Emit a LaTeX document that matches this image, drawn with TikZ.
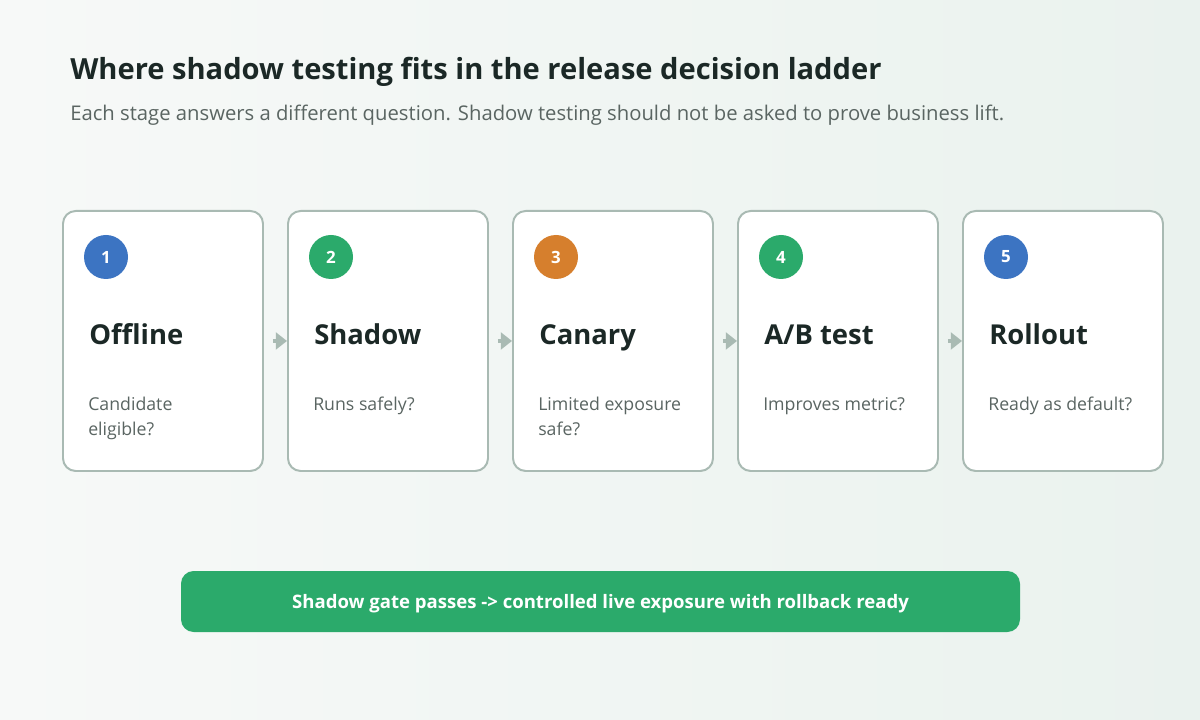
\documentclass[tikz,border=0pt]{standalone}
\usepackage{fontspec}
\setmainfont{Open Sans}
\usetikzlibrary{arrows.meta}
\definecolor{inkdark}{HTML}{1B2826}
\definecolor{inkgrey}{HTML}{5A6562}
\definecolor{edgegrey}{HTML}{A9BAB3}
\definecolor{stepblue}{HTML}{3C74C2}
\definecolor{stepgreen}{HTML}{2BAA6B}
\definecolor{steporange}{HTML}{D67F2D}
\definecolor{bgleft}{HTML}{F7F9F8}
\definecolor{bgright}{HTML}{EAF2EE}
\begin{document}
\begin{tikzpicture}[x=0.025cm, y=-0.025cm,%
% common options for the stage cards:
card/.style = {draw=edgegrey, line width=1.4pt, fill=white, rounded corners=9pt,
            minimum width=200*0.025cm, minimum height=260*0.025cm, anchor=north west, inner sep=0},
% common options for the numbered circles:
badge/.style = {circle, minimum size=44*0.025cm, inner sep=0, text=white, font=\fontsize{12}{14}\selectfont\bfseries},
stagename/.style = {anchor=base west, inner sep=0, text=inkdark, font=\fontsize{19.5}{24}\selectfont\bfseries},
question/.style = {anchor=north west, inner sep=0, text=inkgrey, align=left, font=\fontsize{12.6}{17.5}\selectfont},
arr/.style = {draw=edgegrey, line width=2.6pt, -{Triangle[length=8pt,width=12pt]}}]
\shade[left color=bgleft, right color=bgright] (0,0) rectangle (1200,720);
\useasboundingbox (0,0) rectangle (1200,720);
\node[anchor=base west, inner sep=0, text=inkdark, font=\fontsize{20.7}{24}\selectfont\bfseries] (title) at (70,80) {Where shadow testing fits in the release decision ladder};
\node[anchor=base west, inner sep=0, text=inkgrey, font=\fontsize{14.4}{17}\selectfont] (sub) at (70,121) {Each stage answers a different question. Shadow testing should not be asked to prove business lift.};
\node[card] (S1) at (62,210) {};
\node[card] (S2) at (287,210) {};
\node[card] (S3) at (512,210) {};
\node[card] (S4) at (737,210) {};
\node[card] (S5) at (962,210) {};
\node[badge, fill=stepblue] (N1) at (106,257) {1};
\node[badge, fill=stepgreen] (N2) at (331,257) {2};
\node[badge, fill=steporange] (N3) at (556,257) {3};
\node[badge, fill=stepgreen] (N4) at (781,257) {4};
\node[badge, fill=stepblue] (N5) at (1006,257) {5};
\node[stagename] (T1) at (89,345) {Offline};
\node[stagename] (T2) at (314,345) {Shadow};
\node[stagename] (T3) at (539,345) {Canary};
\node[stagename] (T4) at (764,345) {A/B test};
\node[stagename] (T5) at (989,345) {Rollout};
\node[question] (Q1) at (88,397) {Candidate\\eligible?};
\node[question] (Q2) at (313,397) {Runs safely?};
\node[question] (Q3) at (538,397) {Limited exposure\\safe?};
\node[question] (Q4) at (763,397) {Improves metric?};
\node[question] (Q5) at (988,397) {Ready as default?};
\draw[arr] ([xshift=9*0.025cm]S1.east) to (S2.west);
\draw[arr] ([xshift=9*0.025cm]S2.east) to (S3.west);
\draw[arr] ([xshift=9*0.025cm]S3.east) to (S4.west);
\draw[arr] ([xshift=9*0.025cm]S4.east) to (S5.west);
\node[fill=stepgreen, rounded corners=9pt, minimum width=839*0.025cm, minimum height=61*0.025cm, inner sep=0, text depth=0pt, text=white, font=\fontsize{13.2}{16}\selectfont\bfseries] (gate) at (600.5,601.5) {Shadow gate passes -> controlled live exposure with rollback ready};
\end{tikzpicture}
\end{document}
